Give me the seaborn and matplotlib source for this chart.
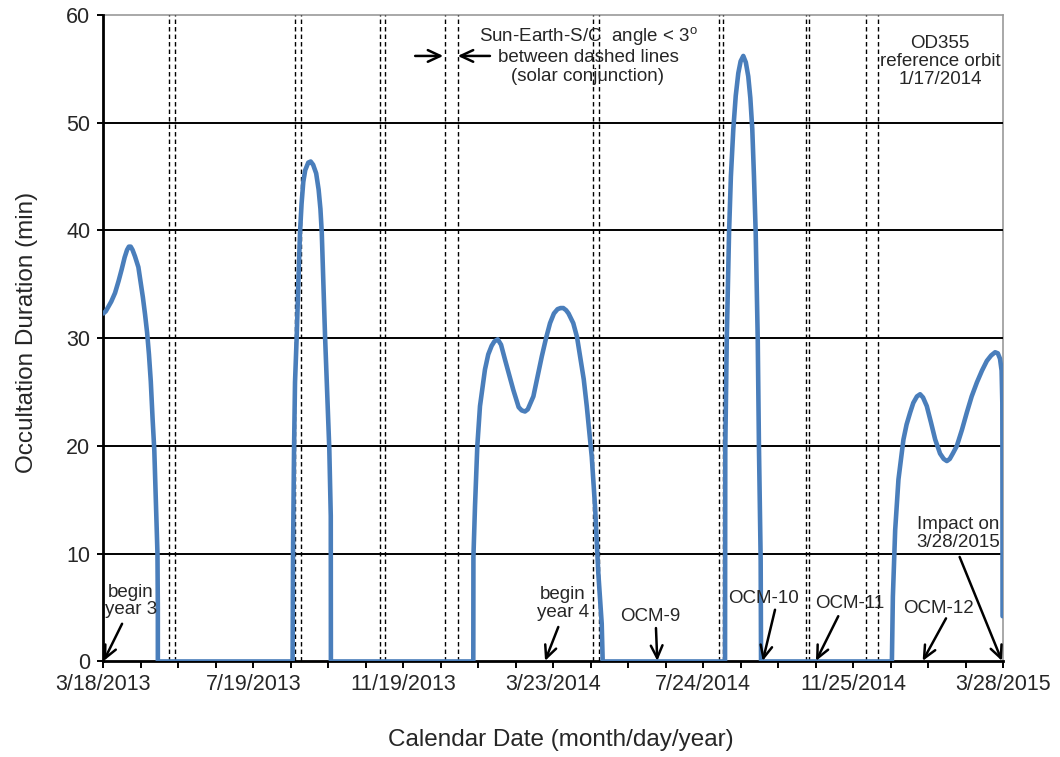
import matplotlib
matplotlib.use("Agg")
import matplotlib.pyplot as plt
from matplotlib.ticker import FixedLocator
import seaborn as sns
import pandas as pd

# Occultation duration (min) versus days after 3/18/2013
day_offset = [
    # year 3, first window
    0, 2, 4, 6.5, 9.6, 12.5, 15.1, 17.5, 19.5, 21, 22.5, 24, 26, 28.8, 30.5, 32.5,
    34.3, 36, 37.5, 39, 40.5, 41.9, 43.3, 44.5, 44.8, 44.8,
    # second window
    155.6, 155.8, 156.0, 156.8, 157.6, 159.0, 160.3, 161.7, 163.0, 164.4, 166.0,
    168.5, 170.5, 172.5, 175.0, 177.0, 178.5, 179.6, 182.3, 185.8, 187.0, 187.1,
    # third window
    304.2, 304.3, 305.6, 307.5, 309.7, 313.8, 316.5, 319.3, 321.5, 324.3, 327.0,
    330.3, 337.1, 341.5, 344.0, 346.7, 349.0, 353.6, 357.0, 360.5, 364.0, 367.3,
    370.5, 373.5, 376.0, 378.2, 380.5, 382.5, 386.4, 389.5, 392, 395, 397.5, 401.6,
    404.3, 407, 409.8, 410.6,
    # fourth window
    511.2, 511.3, 511.4, 512.6, 514.5, 516.0, 518, 520.0, 522.1, 524.0, 526.2,
    528.3, 530.3, 532.0, 533.6, 535.0, 536.4, 538.1, 539.1, 540.5, 540.8,
    # fifth window, ending at impact
    648.4, 649.2, 651.1, 653.8, 657.9, 660.5, 663.4, 666.0, 669.0, 671.6, 674.0,
    677.1, 680.5, 684, 688.0, 691.0, 693.6, 696.0, 698.5, 701.8, 706.0, 710,
    714.0, 718.3, 722.5, 726.5, 730.0, 733.3, 735.5, 737.3, 738.6, 739.2, 739.3,
    739.4,
]
duration_min = [
    32.3, 32.5, 32.9, 33.4, 34.2, 35.3, 36.4, 37.5, 38.2, 38.5, 38.5, 38.2, 37.6,
    36.6, 35.3, 33.8, 32.2, 30.5, 28.5, 26.0, 22.5, 19.6, 14.3, 10.0, 5.0, 0,
    0, 5.0, 10.4, 19.7, 25.9, 30.2, 35.0, 39.8, 42.5, 44.5, 45.6,
    46.3, 46.4, 46.1, 45.3, 43.8, 42.0, 39.8, 30.2, 19.7, 13.5, 0,
    0, 9.7, 14.4, 20.0, 23.7, 27.1, 28.5, 29.3, 29.7, 29.9, 29.4,
    28.0, 25.2, 23.6, 23.3, 23.2, 23.4, 24.6, 26.4, 28.3, 30.0, 31.4,
    32.3, 32.7, 32.8, 32.8, 32.6, 32.3, 31.4, 30.1, 28.3, 26.2, 23.7, 19.0,
    14.4, 8.2, 3.5, 0,
    0, 9.8, 19.8, 29.8, 39.8, 45.0, 49.4, 52.5, 54.6, 55.7, 56.2,
    55.6, 54.3, 52.3, 49.4, 45.0, 39.8, 29.8, 19.8, 9.4, 0,
    0, 6.0, 12.2, 16.9, 20.6, 22.0, 23.1, 24.0, 24.6, 24.8, 24.5,
    23.7, 22.2, 20.6, 19.3, 18.8, 18.6, 18.8, 19.3, 20.0, 21.5, 23.1,
    24.6, 25.9, 27.0, 27.9, 28.4, 28.7, 28.6, 28.1, 27.0, 24.0, 18.4,
    4.2,
]

# Solar conjunction windows (Sun-Earth-S/C angle < 3 deg), days after 3/18/2013
conj_start = [53.7, 158.0, 227.1, 281.2, 402.6, 505.9, 577.4, 626.9]
conj_end = [58.6, 162.5, 231.2, 291.6, 407.2, 509.8, 580.3, 636.8]

tick_labels = ["3/18/2013", "7/19/2013", "11/19/2013", "3/23/2014",
               "7/24/2014", "11/25/2014", "3/28/2015"]
span_days = 740

# Event labels: (text, label x, label y, arrow tail x, tail y, head x, head y)
events = [
    ("begin\nyear 3", 22.4, 5.6, 15.4, 3.5, 0.3, 0.05),
    ("begin\nyear 4", 377.6, 5.4, 374.1, 3.2, 363.2, 0.05),
    ("OCM-9", 449.6, 4.2, 454.4, 3.1, 455.5, 0.05),
    ("OCM-10", 542.7, 5.8, 552.3, 4.8, 542.2, 0.05),
    ("OCM-11", 614.0, 5.4, 604.3, 4.2, 586.0, 0.05),
    ("OCM-12", 686.5, 4.9, 692.9, 4.0, 673.7, 0.05),
    ("Impact on\n3/28/2015", 702.7, 11.9, 704.1, 9.7, 738.9, 0.05),
]

df = pd.DataFrame({"day": day_offset, "duration": duration_min})

sns.set_theme(style="white")
plt.rcParams["font.family"] = ["Liberation Sans", "DejaVu Sans"]
plt.rcParams["mathtext.fontset"] = "custom"
plt.rcParams["mathtext.rm"] = "Liberation Sans"

fig = plt.figure(figsize=(10.6, 7.57), dpi=100)
ax = fig.add_axes([0.0975, 0.1262, 0.849, 0.854])

# horizontal grid
for yv in range(10, 60, 10):
    ax.axhline(yv, color="black", lw=1.4, zorder=1)

# conjunction windows
for a, b in zip(conj_start, conj_end):
    for xv in (a, b):
        ax.axvline(xv, color="black", lw=1.0, ls=(0, (3.2, 2.2)), zorder=2)

sns.lineplot(data=df, x="day", y="duration", sort=False, estimator=None,
             color="#4A7EBB", lw=3.3, ax=ax, zorder=4,
             solid_joinstyle="round", solid_capstyle="round")

ax.set_xlim(0, span_days)
ax.set_ylim(0, 60)

major = [k * span_days / 6 for k in range(7)]
minor = [k * span_days / 24 for k in range(25) if k % 4]
ax.xaxis.set_major_locator(FixedLocator(major))
ax.xaxis.set_minor_locator(FixedLocator(minor))
ax.set_xticklabels(tick_labels)
ax.set_yticks(range(0, 61, 10))

ax.tick_params(axis="x", which="both", bottom=True, direction="out",
               length=5, width=1.4, color="black", labelsize=15.5, pad=4)
ax.tick_params(axis="y", left=True, direction="out", length=4.5, width=1.4,
               color="black", labelsize=15.5, pad=5)

for side in ("left", "bottom"):
    ax.spines[side].set_color("black")
    ax.spines[side].set_linewidth(2.0)
for side in ("top", "right"):
    ax.spines[side].set_color("#9a9a9a")
    ax.spines[side].set_linewidth(1.2)
    ax.spines[side].set_zorder(0)

ax.set_xlabel("Calendar Date (month/day/year)", fontsize=17.5, va="center")
ax.set_ylabel("Occultation Duration (min)", fontsize=17.5, va="center")
ax.xaxis.set_label_coords(0.5086, -0.1214)
ax.yaxis.set_label_coords(-0.0848, 0.509)

ann_fs = 13.5
arrow_kw = dict(arrowstyle="->,head_length=0.75,head_width=0.35",
                color="black", lw=1.8, shrinkA=0, shrinkB=0)

for text, tx, ty, ax0, ay0, ax1, ay1 in events:
    ax.text(tx, ty, text, ha="center", va="center", fontsize=ann_fs,
            linespacing=1.05, zorder=5)
    ax.annotate("", xy=(ax1, ay1), xytext=(ax0, ay0), arrowprops=arrow_kw,
                zorder=5, annotation_clip=False)

ax.text(398.5, 56.3,
        "Sun-Earth-S/C  angle < 3$^{\\mathrm{o}}$\nbetween dashed lines\n(solar conjunction)",
        ha="center", va="center", fontsize=ann_fs, linespacing=1.1, zorder=5)
ax.annotate("", xy=(279.5, 56.2), xytext=(256.4, 56.2), arrowprops=arrow_kw)
ax.annotate("", xy=(291.4, 56.2), xytext=(317.9, 56.2), arrowprops=arrow_kw)

ax.text(688.0, 55.7, "OD355\nreference orbit\n1/17/2014", ha="center",
        va="center", fontsize=ann_fs, linespacing=1.1, zorder=5)

fig.savefig("out.png", dpi=100, facecolor="white")
